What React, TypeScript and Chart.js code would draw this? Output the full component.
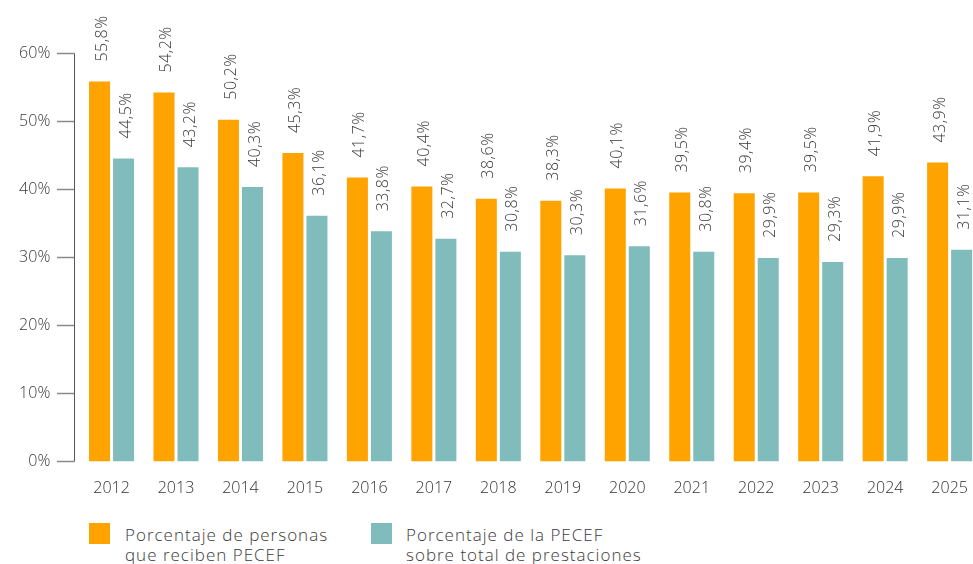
import React, { useEffect, useRef } from "react";
import { Chart, registerables } from "chart.js";

Chart.register(...registerables);

const years = ["2012", "2013", "2014", "2015", "2016", "2017", "2018", "2019", "2020", "2021", "2022", "2023", "2024", "2025"];
const personas = [55.8, 54.2, 50.2, 45.3, 41.7, 40.4, 38.6, 38.3, 40.1, 39.5, 39.4, 39.5, 41.9, 43.9];
const prestaciones = [44.5, 43.2, 40.3, 36.1, 33.8, 32.7, 30.8, 30.3, 31.6, 30.8, 29.9, 29.3, 29.9, 31.1];
const yTicks = [0, 10, 20, 30, 40, 50, 60];
const seriesNames = ["Porcentaje de personas\nque reciben PECEF", "Porcentaje de la PECEF\nsobre total de prestaciones"];

const ORANGE = "#FFA300";
const TEAL = "#80BCBC";
const TEXT = "#3a3a3a";
const FONT = "'Open Sans', sans-serif";

const fmt = (v: number) => v.toFixed(1).replace(".", ",") + "%";

const axisPlugin = {
  id: "customAxis",
  afterDraw(chart: any) {
    const { ctx, scales } = chart;
    const y = scales.y;
    const axX = 74.5;
    ctx.save();
    ctx.strokeStyle = "#8a8a8a";
    ctx.lineWidth = 1.5;
    yTicks.forEach((t) => {
      const py = Math.round(y.getPixelForValue(t)) + 0.5;
      ctx.beginPath();
      ctx.moveTo(57, py);
      ctx.lineTo(axX, py);
      ctx.stroke();
    });
    ctx.strokeStyle = "#555555";
    ctx.lineWidth = 1;
    ctx.beginPath();
    ctx.moveTo(axX, Math.round(y.getPixelForValue(60)) + 0.5);
    ctx.lineTo(axX, Math.round(y.getPixelForValue(0)) + 0.5);
    ctx.stroke();
    ctx.restore();
  },
};

const labelPlugin = {
  id: "barLabels",
  afterDatasetsDraw(chart: any) {
    const { ctx } = chart;
    ctx.save();
    ctx.fillStyle = TEXT;
    ctx.font = `300 16px ${FONT}`;
    try {
      (ctx as any).letterSpacing = "0.5px";
    } catch (e) {}
    ctx.textAlign = "left";
    ctx.textBaseline = "middle";
    chart.data.datasets.forEach((ds: any, di: number) => {
      const meta = chart.getDatasetMeta(di);
      meta.data.forEach((el: any, i: number) => {
        ctx.save();
        ctx.translate(el.x + 2.5, el.y - 20);
        ctx.rotate(-Math.PI / 2);
        ctx.fillText(fmt(ds.data[i]), 0, 0);
        ctx.restore();
      });
    });
    ctx.restore();
  },
};

export default function App() {
  const ref = useRef<HTMLCanvasElement>(null);

  useEffect(() => {
    if (!ref.current) return;
    const chart = new Chart(ref.current, {
      type: "bar",
      data: {
        labels: years,
        datasets: [
          {
            label: seriesNames[0],
            data: personas,
            backgroundColor: ORANGE,
            barPercentage: 0.875,
            categoryPercentage: 0.745,
          },
          {
            label: seriesNames[1],
            data: prestaciones,
            backgroundColor: TEAL,
            barPercentage: 0.875,
            categoryPercentage: 0.745,
          },
        ],
      },
      options: {
        responsive: false,
        animation: false,
        layout: { padding: { top: 53, right: 3, bottom: 0, left: 0 } },
        plugins: {
          legend: { display: false },
          tooltip: { enabled: false },
        },
        scales: {
          x: {
            grid: { display: false, drawTicks: false },
            border: { display: false },
            ticks: {
              color: "#333333",
              font: { family: FONT, size: 16, weight: "300" as any },
              padding: 17,
            },
            afterFit: (s: any) => {
              s.height = 38.3;
            },
          },
          y: {
            min: 0,
            max: 60,
            grid: { display: false, drawTicks: false },
            border: { display: false },
            ticks: {
              stepSize: 10,
              color: TEXT,
              padding: 29,
              font: { family: FONT, size: 16, weight: "300" as any },
              callback: (v: any) => v + "%",
            },
            afterFit: (s: any) => {
              s.width = 79.3;
            },
          },
        },
      },
      plugins: [axisPlugin, labelPlugin],
    });
    return () => chart.destroy();
  }, []);

  const legendText: React.CSSProperties = {
    position: "absolute",
    fontFamily: FONT,
    fontSize: 17,
    fontWeight: 300,
    letterSpacing: "1px",
    lineHeight: "20px",
    color: TEXT,
    whiteSpace: "pre",
  };

  return (
    <div style={{ position: "absolute", left: 0, top: 0, width: 973, height: 564, overflow: "hidden", background: "#fff" }}>
      <canvas ref={ref} width={985} height={500} style={{ position: "absolute", left: 0, top: 0 }} />
      <div style={{ position: "absolute", left: 89, top: 523, width: 21, height: 21, background: ORANGE }} />
      <div style={{ ...legendText, left: 125, top: 525 }}>{seriesNames[0]}</div>
      <div style={{ position: "absolute", left: 371, top: 523, width: 21, height: 21, background: TEAL }} />
      <div style={{ ...legendText, left: 406, top: 525 }}>{seriesNames[1]}</div>
    </div>
  );
}
